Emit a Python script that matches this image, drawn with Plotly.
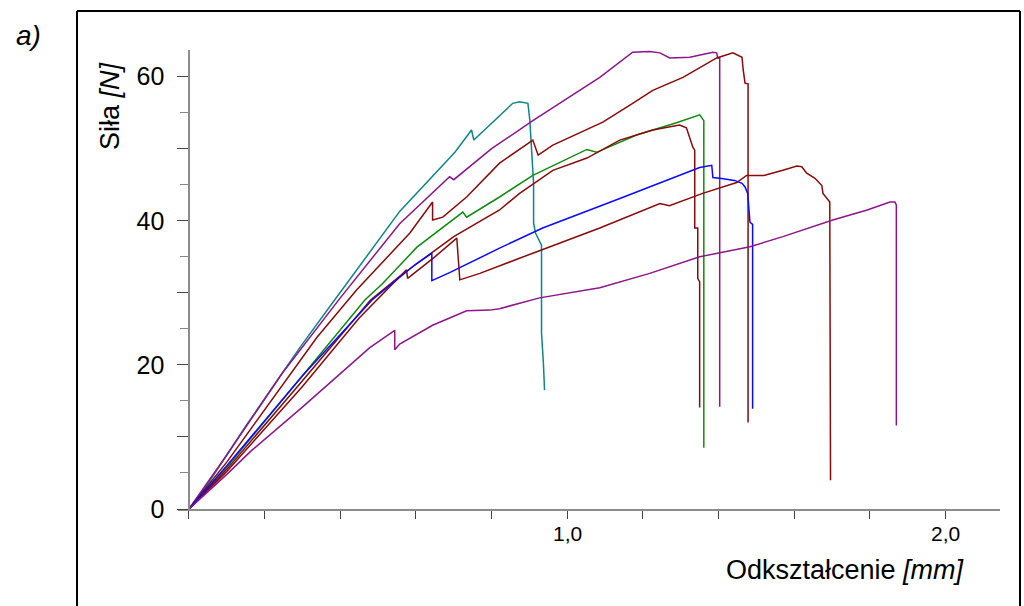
import plotly.graph_objects as go

# ---------------- data ----------------
teal_x = [0, 0.05, 0.15, 0.293, 0.385, 0.557, 0.703, 0.747, 0.753, 0.80, 0.856, 0.874, 0.896, 0.901, 0.911, 0.911, 0.916, 0.932, 0.932, 0.937, 0.940]
teal_y = [0, 3.5, 11.5, 22.4, 29.0, 41.3, 49.5, 52.6, 51.2, 53.5, 56.3, 56.5, 56.3, 54.0, 45.2, 39.7, 38.3, 36.6, 24.4, 20.2, 16.5]

purple_top_x = [0, 0.10, 0.246, 0.40, 0.557, 0.689, 0.70, 0.80, 0.909, 1.0, 1.086, 1.173, 1.218, 1.245, 1.271, 1.324, 1.385, 1.395, 1.398, 1.403, 1.403]
purple_top_y = [0, 7.5, 18.8, 29.3, 39.6, 46.1, 45.7, 50.0, 53.9, 57.0, 59.9, 63.4, 63.5, 63.3, 62.6, 62.7, 63.4, 63.3, 62.6, 62.6, 14.2]

red_a_x = [0, 0.10, 0.338, 0.443, 0.584, 0.644, 0.644, 0.671, 0.734, 0.821, 0.909, 0.923, 0.962, 1.094, 1.173, 1.226, 1.306, 1.395, 1.438, 1.462, 1.465, 1.470, 1.478, 1.478]
red_a_y = [0, 6.5, 23.8, 30.4, 38.3, 42.6, 40.1, 40.5, 43.3, 48.0, 51.2, 49.1, 50.5, 53.7, 56.3, 58.1, 59.9, 62.6, 63.3, 62.7, 61.0, 59.1, 59.0, 12.0]

green_x = [0, 0.10, 0.30, 0.465, 0.512, 0.602, 0.724, 0.734, 0.821, 0.909, 1.052, 1.078, 1.183, 1.289, 1.350, 1.358, 1.361, 1.361]
green_y = [0, 5.8, 18.5, 29.0, 31.3, 36.3, 41.2, 40.5, 43.3, 46.3, 49.9, 49.5, 51.9, 53.6, 54.7, 54.2, 53.9, 8.5]

red_b_x = [0, 0.10, 0.30, 0.48, 0.557, 0.70, 0.821, 0.874, 0.962, 1.052, 1.139, 1.226, 1.297, 1.315, 1.332, 1.337, 1.337, 1.345, 1.345, 1.350, 1.350]
red_b_y = [0, 5.5, 17.8, 29.0, 32.3, 37.8, 41.5, 43.8, 47.0, 48.7, 51.2, 52.6, 53.3, 52.9, 50.2, 49.8, 39.0, 39.0, 32.0, 31.5, 14.1]

red_c_x = [0, 0.10, 0.30, 0.45, 0.575, 0.578, 0.65, 0.708, 0.716, 0.769, 0.909, 1.086, 1.245, 1.27, 1.358, 1.448, 1.474, 1.52, 1.570, 1.607, 1.620, 1.633, 1.655, 1.673, 1.676, 1.694, 1.696]
red_c_y = [0, 5.2, 17.0, 26.5, 33.2, 32.0, 35.0, 37.6, 31.8, 32.7, 35.5, 39.0, 42.4, 42.1, 43.8, 45.3, 46.3, 46.3, 47.0, 47.6, 47.5, 46.6, 45.9, 44.9, 43.8, 42.6, 4.0]

blue_x = [0, 0.10, 0.30, 0.484, 0.60, 0.642, 0.642, 0.689, 0.821, 0.935, 1.139, 1.315, 1.350, 1.382, 1.385, 1.403, 1.430, 1.442, 1.462, 1.470, 1.477, 1.483, 1.490, 1.490]
blue_y = [0, 6.0, 18.5, 29.0, 34.0, 35.5, 31.7, 32.8, 36.2, 39.0, 43.1, 46.7, 47.4, 47.7, 46.0, 45.9, 45.7, 45.6, 45.2, 44.7, 43.8, 39.8, 39.5, 13.9]

purple_low_x = [0, 0.10, 0.165, 0.299, 0.478, 0.517, 0.544, 0.544, 0.557, 0.644, 0.734, 0.795, 0.821, 0.927, 1.086, 1.218, 1.350, 1.483, 1.570, 1.702, 1.793, 1.853, 1.866, 1.870, 1.870]
purple_low_y = [0, 4.8, 8.1, 14.1, 22.4, 23.8, 24.8, 22.1, 22.9, 25.5, 27.5, 27.6, 27.8, 29.3, 30.7, 32.7, 35.0, 36.4, 37.8, 40.1, 41.5, 42.6, 42.6, 42.2, 11.6]

x_tick_vals = [0, 0.2, 0.4, 0.6, 0.8, 1.0, 1.2, 1.4, 1.6, 1.8, 2.0]
x_label_vals = [1.0, 2.0]
x_label_text = ["1,0", "2,0"]
y_tick_vals = [0, 10, 20, 30, 40, 50, 60]
y_tick_text = ["0", "", "20", "", "40", "", "60"]
y_minor_vals = [5, 15, 25, 35, 45, 55]

x_title = "Odkształcenie <i>[mm]</i>"
y_title = "Siła <i>[N]</i>"
panel_label = "<i>a)</i>"

# ---------------- layout geometry ----------------
W, H = 1024, 606
ML, MR, MT, MB = 178, 24, 50, 97.4
PW = W - ML - MR
PH = H - MT - MB
X0, X1 = -0.029, 2.144
Y0, Y1 = 0, 63.7
FONT = "Liberation Sans, Arial, sans-serif"


def px_x(px):
    return (px - ML) / PW


def px_y(py):
    return (H - MB - py) / PH


series = [
    (teal_x, teal_y, "#0f8585"),
    (purple_top_x, purple_top_y, "#8a168a"),
    (red_a_x, red_a_y, "#880a0a"),
    (green_x, green_y, "#0f8a0f"),
    (red_b_x, red_b_y, "#880a0a"),
    (red_c_x, red_c_y, "#880a0a"),
    (blue_x, blue_y, "#0a0aff"),
    (purple_low_x, purple_low_y, "#8a168a"),
]

fig = go.Figure()
for xs, ys, col in series:
    fig.add_trace(go.Scatter(x=xs, y=ys, mode="lines",
                             line=dict(color=col, width=1.5),
                             showlegend=False, hoverinfo="skip"))

fig.update_layout(
    width=W, height=H,
    margin=dict(l=ML, r=MR, t=MT, b=MB, pad=0),
    paper_bgcolor="white", plot_bgcolor="white",
    font=dict(family=FONT, color="black"),
    showlegend=False,
    xaxis=dict(range=[X0, X1], showgrid=False, zeroline=False,
               showline=True, linecolor="#8c8c8c", linewidth=2,
               tickmode="array", tickvals=x_tick_vals, showticklabels=False,
               ticks="outside", ticklen=8, tickwidth=1, tickcolor="#444"),
    yaxis=dict(range=[Y0, Y1], showgrid=False, zeroline=False,
               anchor="free", position=px_x(189.3),
               showline=True, linecolor="#8c8c8c", linewidth=2,
               tickmode="array", tickvals=y_tick_vals, ticktext=y_tick_text,
               ticks="outside", ticklen=11, tickwidth=1, tickcolor="#444",
               tickfont=dict(size=25, family=FONT, color="black"),
               ticklabelstandoff=8,
               minor=dict(tickmode="array", tickvals=y_minor_vals, ticks="outside",
                          ticklen=8, tickcolor="#888", tickwidth=1, showgrid=False)),
)

for xv, txt in zip(x_label_vals, x_label_text):
    fig.add_annotation(x=xv, y=px_y(533.5), xref="x", yref="paper",
                       text=txt, showarrow=False,
                       xanchor="center", yanchor="middle",
                       font=dict(size=21, family=FONT, color="black"))

fig.add_annotation(x=px_x(110), y=px_y(106), xref="paper", yref="paper",
                   text=y_title, textangle=-90, showarrow=False,
                   xanchor="center", yanchor="middle",
                   font=dict(size=27, family=FONT, color="black"))
fig.add_annotation(x=px_x(967), y=px_y(570), xref="paper", yref="paper",
                   text=x_title, showarrow=False,
                   xanchor="right", yanchor="middle",
                   font=dict(size=27, family=FONT, color="black"))
fig.add_annotation(x=px_x(28), y=px_y(36), xref="paper", yref="paper",
                   text=panel_label, showarrow=False,
                   xanchor="center", yanchor="middle",
                   font=dict(size=28, family=FONT, color="black"))

# outer frame
for (xa, ya, xb, yb) in [(77, 11, 1020, 11), (77, 11, 77, 612), (1020, 11, 1020, 612)]:
    fig.add_shape(type="line", xref="paper", yref="paper",
                  x0=px_x(xa), y0=px_y(ya), x1=px_x(xb), y1=px_y(yb),
                  line=dict(color="black", width=2))

fig.write_html("out.html")
